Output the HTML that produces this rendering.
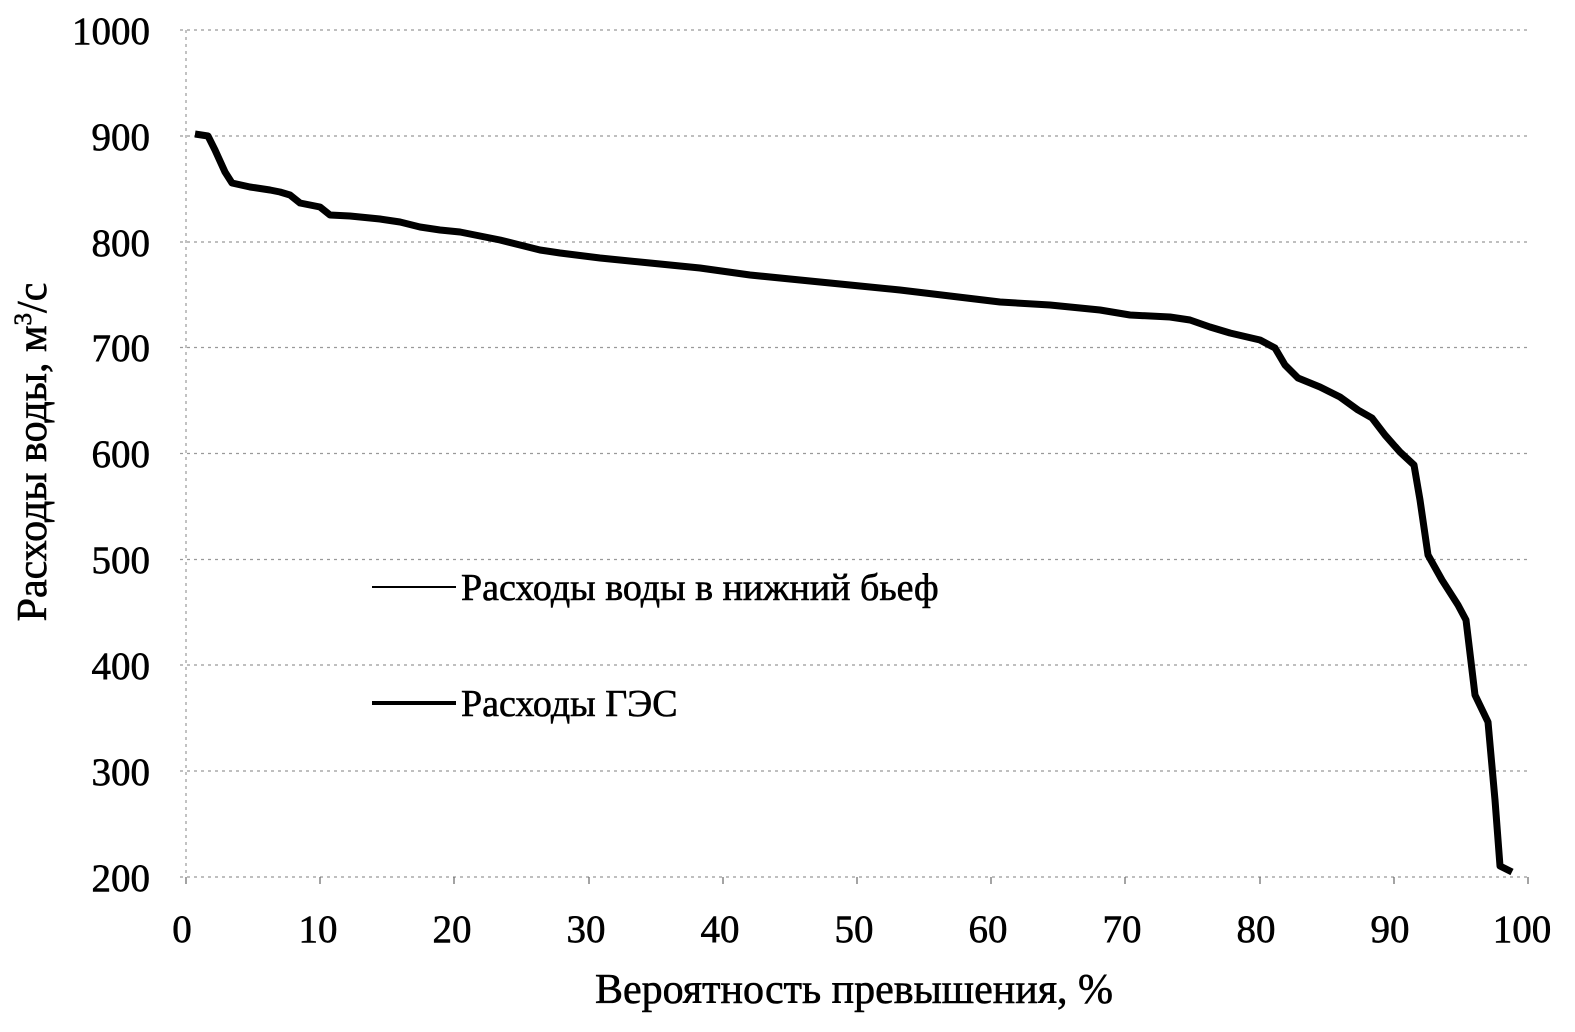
<!DOCTYPE html>
<html><head><meta charset="utf-8"><style>
body{margin:0;background:#fff}
svg text{font-family:"Liberation Serif",serif;fill:#000;stroke:#000;stroke-width:0.6}
</style></head><body>
<svg width="1575" height="1027" xmlns="http://www.w3.org/2000/svg">
<g stroke="#999" stroke-width="1.2" stroke-dasharray="3,4">
<line x1="180" y1="30" x2="1528" y2="30"/>
<line x1="180" y1="136" x2="1528" y2="136"/>
<line x1="180" y1="242" x2="1528" y2="242"/>
<line x1="180" y1="347.5" x2="1528" y2="347.5"/>
<line x1="180" y1="453.5" x2="1528" y2="453.5"/>
<line x1="180" y1="559.5" x2="1528" y2="559.5"/>
<line x1="180" y1="665" x2="1528" y2="665"/>
<line x1="180" y1="771" x2="1528" y2="771"/>
<line x1="180" y1="877" x2="1528" y2="877"/>
<line x1="186" y1="30" x2="186" y2="877"/>
</g>
<g stroke="#666" stroke-width="1.2">
<line x1="186" y1="877" x2="186" y2="884"/><line x1="320" y1="877" x2="320" y2="884"/><line x1="454" y1="877" x2="454" y2="884"/><line x1="589" y1="877" x2="589" y2="884"/><line x1="723" y1="877" x2="723" y2="884"/><line x1="857" y1="877" x2="857" y2="884"/><line x1="991" y1="877" x2="991" y2="884"/><line x1="1125" y1="877" x2="1125" y2="884"/><line x1="1260" y1="877" x2="1260" y2="884"/><line x1="1394" y1="877" x2="1394" y2="884"/><line x1="1528" y1="877" x2="1528" y2="884"/>
</g>
<polyline fill="none" stroke="#000" stroke-width="7" stroke-linejoin="round" points="195,134 208,136 215,150 225,172 232,183 250,187 270,190 280,192 290,195 300,203 320,207 330,215 350,216 380,219 400,222 420,227 440,230 460,232 480,236 500,240 520,245 540,250 560,253 600,258 650,263 700,268 750,275 800,280 850,285 900,290 950,296 1000,302 1050,305 1100,310 1130,315 1170,317 1190,320 1210,327 1230,333 1260,340 1275,348 1285,365 1298,378 1320,387 1340,397 1358,410 1372,418 1385,435 1400,452 1414,465 1420,500 1428,555 1442,580 1458,605 1466,620 1475,695 1488,722 1495,800 1500,866 1512,872"/>
<g font-size="39" text-anchor="end">
<text x="150" y="44">1000</text><text x="150" y="150">900</text><text x="150" y="256">800</text><text x="150" y="361">700</text><text x="150" y="467">600</text><text x="150" y="573">500</text><text x="150" y="679">400</text><text x="150" y="785">300</text><text x="150" y="891">200</text>
</g>
<g font-size="39" text-anchor="middle">
<text x="182" y="942">0</text><text x="318" y="942">10</text><text x="452" y="942">20</text><text x="586" y="942">30</text><text x="720" y="942">40</text><text x="854" y="942">50</text><text x="988" y="942">60</text><text x="1122" y="942">70</text><text x="1256" y="942">80</text><text x="1390" y="942">90</text><text x="1522" y="942">100</text>
</g>
<text x="854" y="1003" font-size="42" text-anchor="middle">Вероятность превышения, %</text>
<text transform="translate(46,452) rotate(-90)" font-size="42" text-anchor="middle">Расходы воды, м<tspan font-size="25" dy="-15">3</tspan><tspan dy="15">/с</tspan></text>
<line x1="372" y1="587" x2="456" y2="587" stroke="#000" stroke-width="2"/>
<line x1="372" y1="703" x2="456" y2="703" stroke="#000" stroke-width="4"/>
<text x="461" y="600" font-size="38">Расходы воды в нижний бьеф</text>
<text x="461" y="716" font-size="38">Расходы ГЭС</text>
</svg>
</body></html>
